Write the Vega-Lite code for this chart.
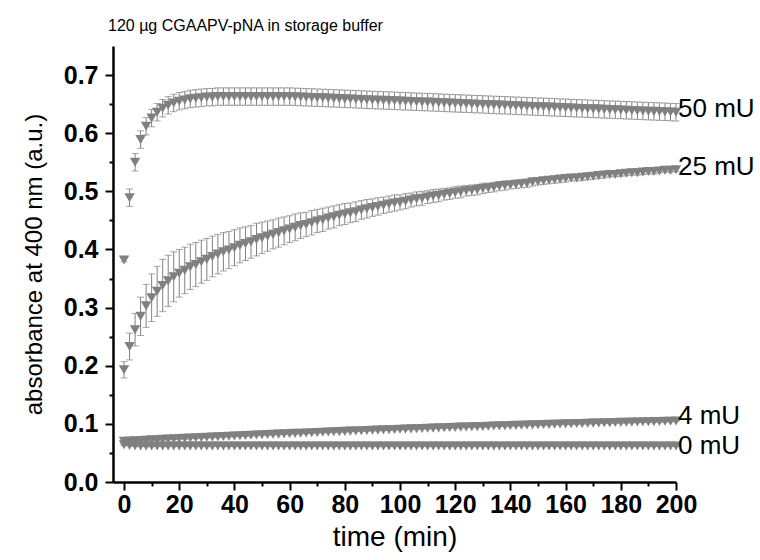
{
"$schema":"https://vega.github.io/schema/vega-lite/v6.json",
"width":563,"height":436,
"autosize":{"type":"none"},
"padding":{"left":113,"top":46,"right":84,"bottom":78},
"config":{"view":{"stroke":null},"font":"Liberation Sans"},
"title":{"text":"120 µg CGAAPV-pNA in storage buffer","anchor":"start","frame":"group","fontSize":16,"fontWeight":"normal","font":"Liberation Sans","color":"black","offset":-1,"dx":-5,"baseline":"alphabetic"},
"datasets":{"pts":[
{"t":0,"s":"50","y":0.382,"e":0.003},{"t":2,"s":"50","y":0.489,"e":0.015},{"t":4,"s":"50","y":0.55,"e":0.015},{"t":6,"s":"50","y":0.589,"e":0.015},{"t":8,"s":"50","y":0.612,"e":0.015},{"t":10,"s":"50","y":0.626,"e":0.015},{"t":12,"s":"50","y":0.636,"e":0.015},{"t":14,"s":"50","y":0.643,"e":0.015},{"t":16,"s":"50","y":0.648,"e":0.015},{"t":18,"s":"50","y":0.652,"e":0.015},{"t":20,"s":"50","y":0.655,"e":0.015},{"t":22,"s":"50","y":0.657,"e":0.015},{"t":24,"s":"50","y":0.659,"e":0.015},{"t":26,"s":"50","y":0.66,"e":0.015},{"t":28,"s":"50","y":0.661,"e":0.015},{"t":30,"s":"50","y":0.662,"e":0.015},{"t":32,"s":"50","y":0.662,"e":0.015},{"t":34,"s":"50","y":0.663,"e":0.015},{"t":36,"s":"50","y":0.663,"e":0.015},{"t":38,"s":"50","y":0.663,"e":0.015},{"t":40,"s":"50","y":0.663,"e":0.015},{"t":42,"s":"50","y":0.663,"e":0.015},{"t":44,"s":"50","y":0.663,"e":0.015},{"t":46,"s":"50","y":0.663,"e":0.015},{"t":48,"s":"50","y":0.663,"e":0.015},{"t":50,"s":"50","y":0.663,"e":0.015},{"t":52,"s":"50","y":0.663,"e":0.015},{"t":54,"s":"50","y":0.663,"e":0.015},{"t":56,"s":"50","y":0.663,"e":0.015},{"t":58,"s":"50","y":0.663,"e":0.015},{"t":60,"s":"50","y":0.663,"e":0.015},{"t":62,"s":"50","y":0.6626,"e":0.015},{"t":64,"s":"50","y":0.6622,"e":0.015},{"t":66,"s":"50","y":0.6618,"e":0.015},{"t":68,"s":"50","y":0.6615,"e":0.015},{"t":70,"s":"50","y":0.6611,"e":0.015},{"t":72,"s":"50","y":0.6607,"e":0.015},{"t":74,"s":"50","y":0.6603,"e":0.015},{"t":76,"s":"50","y":0.6599,"e":0.015},{"t":78,"s":"50","y":0.6595,"e":0.015},{"t":80,"s":"50","y":0.6591,"e":0.015},{"t":82,"s":"50","y":0.6588,"e":0.015},{"t":84,"s":"50","y":0.6584,"e":0.015},{"t":86,"s":"50","y":0.658,"e":0.015},{"t":88,"s":"50","y":0.6576,"e":0.015},{"t":90,"s":"50","y":0.6572,"e":0.015},{"t":92,"s":"50","y":0.6568,"e":0.015},{"t":94,"s":"50","y":0.6564,"e":0.015},{"t":96,"s":"50","y":0.6561,"e":0.015},{"t":98,"s":"50","y":0.6557,"e":0.015},{"t":100,"s":"50","y":0.6553,"e":0.015},{"t":102,"s":"50","y":0.6549,"e":0.015},{"t":104,"s":"50","y":0.6545,"e":0.015},{"t":106,"s":"50","y":0.6541,"e":0.015},{"t":108,"s":"50","y":0.6537,"e":0.015},{"t":110,"s":"50","y":0.6534,"e":0.015},{"t":112,"s":"50","y":0.653,"e":0.015},{"t":114,"s":"50","y":0.6526,"e":0.015},{"t":116,"s":"50","y":0.6522,"e":0.015},{"t":118,"s":"50","y":0.6518,"e":0.015},{"t":120,"s":"50","y":0.6514,"e":0.015},{"t":122,"s":"50","y":0.651,"e":0.015},{"t":124,"s":"50","y":0.6507,"e":0.015},{"t":126,"s":"50","y":0.6503,"e":0.015},{"t":128,"s":"50","y":0.6499,"e":0.015},{"t":130,"s":"50","y":0.6495,"e":0.015},{"t":132,"s":"50","y":0.6491,"e":0.015},{"t":134,"s":"50","y":0.6487,"e":0.015},{"t":136,"s":"50","y":0.6483,"e":0.015},{"t":138,"s":"50","y":0.648,"e":0.015},{"t":140,"s":"50","y":0.6476,"e":0.015},{"t":142,"s":"50","y":0.6472,"e":0.015},{"t":144,"s":"50","y":0.6468,"e":0.015},{"t":146,"s":"50","y":0.6464,"e":0.015},{"t":148,"s":"50","y":0.646,"e":0.015},{"t":150,"s":"50","y":0.6456,"e":0.015},{"t":152,"s":"50","y":0.6453,"e":0.015},{"t":154,"s":"50","y":0.6449,"e":0.015},{"t":156,"s":"50","y":0.6445,"e":0.015},{"t":158,"s":"50","y":0.6441,"e":0.015},{"t":160,"s":"50","y":0.6437,"e":0.015},{"t":162,"s":"50","y":0.6433,"e":0.015},{"t":164,"s":"50","y":0.6429,"e":0.015},{"t":166,"s":"50","y":0.6426,"e":0.015},{"t":168,"s":"50","y":0.6422,"e":0.015},{"t":170,"s":"50","y":0.6418,"e":0.015},{"t":172,"s":"50","y":0.6414,"e":0.015},{"t":174,"s":"50","y":0.641,"e":0.015},{"t":176,"s":"50","y":0.6406,"e":0.015},{"t":178,"s":"50","y":0.6402,"e":0.015},{"t":180,"s":"50","y":0.6399,"e":0.015},{"t":182,"s":"50","y":0.6395,"e":0.015},{"t":184,"s":"50","y":0.6391,"e":0.015},{"t":186,"s":"50","y":0.6387,"e":0.015},{"t":188,"s":"50","y":0.6383,"e":0.015},{"t":190,"s":"50","y":0.6379,"e":0.015},{"t":192,"s":"50","y":0.6375,"e":0.015},{"t":194,"s":"50","y":0.6372,"e":0.015},{"t":196,"s":"50","y":0.6368,"e":0.015},{"t":198,"s":"50","y":0.6364,"e":0.015},{"t":200,"s":"50","y":0.636,"e":0.015},
{"t":0,"s":"25","y":0.193,"e":0.014},{"t":2,"s":"25","y":0.233,"e":0.023},{"t":4,"s":"25","y":0.262,"e":0.028},{"t":6,"s":"25","y":0.285,"e":0.033},{"t":8,"s":"25","y":0.303,"e":0.037},{"t":10,"s":"25","y":0.317,"e":0.041},{"t":12,"s":"25","y":0.328,"e":0.043},{"t":14,"s":"25","y":0.338,"e":0.045},{"t":16,"s":"25","y":0.346,"e":0.044},{"t":18,"s":"25","y":0.353,"e":0.043},{"t":20,"s":"25","y":0.359,"e":0.041},{"t":22,"s":"25","y":0.364,"e":0.04},{"t":24,"s":"25","y":0.37,"e":0.039},{"t":26,"s":"25","y":0.374,"e":0.038},{"t":28,"s":"25","y":0.379,"e":0.037},{"t":30,"s":"25","y":0.383,"e":0.036},{"t":32,"s":"25","y":0.388,"e":0.035},{"t":34,"s":"25","y":0.392,"e":0.034},{"t":36,"s":"25","y":0.396,"e":0.033},{"t":38,"s":"25","y":0.399,"e":0.032},{"t":40,"s":"25","y":0.403,"e":0.031},{"t":42,"s":"25","y":0.407,"e":0.03},{"t":44,"s":"25","y":0.41,"e":0.029},{"t":46,"s":"25","y":0.413,"e":0.028},{"t":48,"s":"25","y":0.417,"e":0.028},{"t":50,"s":"25","y":0.42,"e":0.027},{"t":52,"s":"25","y":0.423,"e":0.026},{"t":54,"s":"25","y":0.426,"e":0.025},{"t":56,"s":"25","y":0.429,"e":0.025},{"t":58,"s":"25","y":0.432,"e":0.024},{"t":60,"s":"25","y":0.435,"e":0.023},{"t":62,"s":"25","y":0.438,"e":0.023},{"t":64,"s":"25","y":0.441,"e":0.022},{"t":66,"s":"25","y":0.443,"e":0.021},{"t":68,"s":"25","y":0.446,"e":0.021},{"t":70,"s":"25","y":0.449,"e":0.02},{"t":72,"s":"25","y":0.451,"e":0.02},{"t":74,"s":"25","y":0.454,"e":0.019},{"t":76,"s":"25","y":0.456,"e":0.019},{"t":78,"s":"25","y":0.459,"e":0.018},{"t":80,"s":"25","y":0.461,"e":0.018},{"t":82,"s":"25","y":0.463,"e":0.017},{"t":84,"s":"25","y":0.465,"e":0.017},{"t":86,"s":"25","y":0.468,"e":0.016},{"t":88,"s":"25","y":0.47,"e":0.016},{"t":90,"s":"25","y":0.472,"e":0.015},{"t":92,"s":"25","y":0.474,"e":0.015},{"t":94,"s":"25","y":0.476,"e":0.014},{"t":96,"s":"25","y":0.478,"e":0.014},{"t":98,"s":"25","y":0.48,"e":0.014},{"t":100,"s":"25","y":0.481,"e":0.013},{"t":102,"s":"25","y":0.483,"e":0.013},{"t":104,"s":"25","y":0.485,"e":0.012},{"t":106,"s":"25","y":0.487,"e":0.012},{"t":108,"s":"25","y":0.488,"e":0.012},{"t":110,"s":"25","y":0.49,"e":0.011},{"t":112,"s":"25","y":0.492,"e":0.011},{"t":114,"s":"25","y":0.493,"e":0.011},{"t":116,"s":"25","y":0.495,"e":0.01},{"t":118,"s":"25","y":0.496,"e":0.01},{"t":120,"s":"25","y":0.498,"e":0.01},{"t":122,"s":"25","y":0.499,"e":0.01},{"t":124,"s":"25","y":0.501,"e":0.009},{"t":126,"s":"25","y":0.502,"e":0.009},{"t":128,"s":"25","y":0.503,"e":0.009},{"t":130,"s":"25","y":0.505,"e":0.009},{"t":132,"s":"25","y":0.506,"e":0.008},{"t":134,"s":"25","y":0.507,"e":0.008},{"t":136,"s":"25","y":0.509,"e":0.008},{"t":138,"s":"25","y":0.51,"e":0.008},{"t":140,"s":"25","y":0.511,"e":0.007},{"t":142,"s":"25","y":0.512,"e":0.007},{"t":144,"s":"25","y":0.513,"e":0.007},{"t":146,"s":"25","y":0.514,"e":0.007},{"t":148,"s":"25","y":0.516,"e":0.007},{"t":150,"s":"25","y":0.517,"e":0.006},{"t":152,"s":"25","y":0.518,"e":0.006},{"t":154,"s":"25","y":0.519,"e":0.006},{"t":156,"s":"25","y":0.52,"e":0.006},{"t":158,"s":"25","y":0.521,"e":0.006},{"t":160,"s":"25","y":0.522,"e":0.006},{"t":162,"s":"25","y":0.523,"e":0.005},{"t":164,"s":"25","y":0.523,"e":0.005},{"t":166,"s":"25","y":0.524,"e":0.005},{"t":168,"s":"25","y":0.525,"e":0.005},{"t":170,"s":"25","y":0.526,"e":0.005},{"t":172,"s":"25","y":0.527,"e":0.005},{"t":174,"s":"25","y":0.528,"e":0.005},{"t":176,"s":"25","y":0.529,"e":0.004},{"t":178,"s":"25","y":0.529,"e":0.004},{"t":180,"s":"25","y":0.53,"e":0.004},{"t":182,"s":"25","y":0.531,"e":0.004},{"t":184,"s":"25","y":0.532,"e":0.004},{"t":186,"s":"25","y":0.532,"e":0.004},{"t":188,"s":"25","y":0.533,"e":0.004},{"t":190,"s":"25","y":0.534,"e":0.004},{"t":192,"s":"25","y":0.534,"e":0.004},{"t":194,"s":"25","y":0.535,"e":0.003},{"t":196,"s":"25","y":0.536,"e":0.003},{"t":198,"s":"25","y":0.536,"e":0.003},{"t":200,"s":"25","y":0.537,"e":0.003},
{"t":0,"s":"4","y":0.07,"e":0.001},{"t":2,"s":"4","y":0.0705,"e":0.001},{"t":4,"s":"4","y":0.071,"e":0.001},{"t":6,"s":"4","y":0.0714,"e":0.001},{"t":8,"s":"4","y":0.0719,"e":0.001},{"t":10,"s":"4","y":0.0724,"e":0.001},{"t":12,"s":"4","y":0.0728,"e":0.001},{"t":14,"s":"4","y":0.0733,"e":0.001},{"t":16,"s":"4","y":0.0738,"e":0.001},{"t":18,"s":"4","y":0.0742,"e":0.001},{"t":20,"s":"4","y":0.0747,"e":0.001},{"t":22,"s":"4","y":0.0751,"e":0.001},{"t":24,"s":"4","y":0.0756,"e":0.001},{"t":26,"s":"4","y":0.076,"e":0.001},{"t":28,"s":"4","y":0.0765,"e":0.001},{"t":30,"s":"4","y":0.0769,"e":0.001},{"t":32,"s":"4","y":0.0773,"e":0.001},{"t":34,"s":"4","y":0.0778,"e":0.001},{"t":36,"s":"4","y":0.0782,"e":0.001},{"t":38,"s":"4","y":0.0786,"e":0.001},{"t":40,"s":"4","y":0.0791,"e":0.001},{"t":42,"s":"4","y":0.0795,"e":0.001},{"t":44,"s":"4","y":0.0799,"e":0.001},{"t":46,"s":"4","y":0.0803,"e":0.001},{"t":48,"s":"4","y":0.0808,"e":0.001},{"t":50,"s":"4","y":0.0812,"e":0.001},{"t":52,"s":"4","y":0.0816,"e":0.001},{"t":54,"s":"4","y":0.082,"e":0.001},{"t":56,"s":"4","y":0.0824,"e":0.001},{"t":58,"s":"4","y":0.0828,"e":0.001},{"t":60,"s":"4","y":0.0832,"e":0.001},{"t":62,"s":"4","y":0.0836,"e":0.001},{"t":64,"s":"4","y":0.084,"e":0.001},{"t":66,"s":"4","y":0.0844,"e":0.001},{"t":68,"s":"4","y":0.0848,"e":0.001},{"t":70,"s":"4","y":0.0852,"e":0.001},{"t":72,"s":"4","y":0.0856,"e":0.001},{"t":74,"s":"4","y":0.086,"e":0.001},{"t":76,"s":"4","y":0.0863,"e":0.001},{"t":78,"s":"4","y":0.0867,"e":0.001},{"t":80,"s":"4","y":0.0871,"e":0.001},{"t":82,"s":"4","y":0.0875,"e":0.001},{"t":84,"s":"4","y":0.0878,"e":0.001},{"t":86,"s":"4","y":0.0882,"e":0.001},{"t":88,"s":"4","y":0.0886,"e":0.001},{"t":90,"s":"4","y":0.0889,"e":0.001},{"t":92,"s":"4","y":0.0893,"e":0.001},{"t":94,"s":"4","y":0.0896,"e":0.001},{"t":96,"s":"4","y":0.09,"e":0.001},{"t":98,"s":"4","y":0.0904,"e":0.001},{"t":100,"s":"4","y":0.0907,"e":0.001},{"t":102,"s":"4","y":0.091,"e":0.001},{"t":104,"s":"4","y":0.0914,"e":0.001},{"t":106,"s":"4","y":0.0917,"e":0.001},{"t":108,"s":"4","y":0.0921,"e":0.001},{"t":110,"s":"4","y":0.0924,"e":0.001},{"t":112,"s":"4","y":0.0927,"e":0.001},{"t":114,"s":"4","y":0.0931,"e":0.001},{"t":116,"s":"4","y":0.0934,"e":0.001},{"t":118,"s":"4","y":0.0937,"e":0.001},{"t":120,"s":"4","y":0.094,"e":0.001},{"t":122,"s":"4","y":0.0944,"e":0.001},{"t":124,"s":"4","y":0.0947,"e":0.001},{"t":126,"s":"4","y":0.095,"e":0.001},{"t":128,"s":"4","y":0.0953,"e":0.001},{"t":130,"s":"4","y":0.0956,"e":0.001},{"t":132,"s":"4","y":0.0959,"e":0.001},{"t":134,"s":"4","y":0.0962,"e":0.001},{"t":136,"s":"4","y":0.0965,"e":0.001},{"t":138,"s":"4","y":0.0968,"e":0.001},{"t":140,"s":"4","y":0.0971,"e":0.001},{"t":142,"s":"4","y":0.0974,"e":0.001},{"t":144,"s":"4","y":0.0977,"e":0.001},{"t":146,"s":"4","y":0.098,"e":0.001},{"t":148,"s":"4","y":0.0983,"e":0.001},{"t":150,"s":"4","y":0.0986,"e":0.001},{"t":152,"s":"4","y":0.0989,"e":0.001},{"t":154,"s":"4","y":0.0991,"e":0.001},{"t":156,"s":"4","y":0.0994,"e":0.001},{"t":158,"s":"4","y":0.0997,"e":0.001},{"t":160,"s":"4","y":0.1,"e":0.001},{"t":162,"s":"4","y":0.1002,"e":0.001},{"t":164,"s":"4","y":0.1005,"e":0.001},{"t":166,"s":"4","y":0.1007,"e":0.001},{"t":168,"s":"4","y":0.101,"e":0.001},{"t":170,"s":"4","y":0.1013,"e":0.001},{"t":172,"s":"4","y":0.1015,"e":0.001},{"t":174,"s":"4","y":0.1018,"e":0.001},{"t":176,"s":"4","y":0.102,"e":0.001},{"t":178,"s":"4","y":0.1023,"e":0.001},{"t":180,"s":"4","y":0.1025,"e":0.001},{"t":182,"s":"4","y":0.1027,"e":0.001},{"t":184,"s":"4","y":0.103,"e":0.001},{"t":186,"s":"4","y":0.1032,"e":0.001},{"t":188,"s":"4","y":0.1035,"e":0.001},{"t":190,"s":"4","y":0.1037,"e":0.001},{"t":192,"s":"4","y":0.1039,"e":0.001},{"t":194,"s":"4","y":0.1041,"e":0.001},{"t":196,"s":"4","y":0.1044,"e":0.001},{"t":198,"s":"4","y":0.1046,"e":0.001},{"t":200,"s":"4","y":0.1048,"e":0.001},
{"t":0,"s":"0","y":0.064,"e":0.001},{"t":2,"s":"0","y":0.063,"e":0.001},{"t":4,"s":"0","y":0.0625,"e":0.001},{"t":6,"s":"0","y":0.062,"e":0.001},{"t":8,"s":"0","y":0.062,"e":0.001},{"t":10,"s":"0","y":0.062,"e":0.001},{"t":12,"s":"0","y":0.062,"e":0.001},{"t":14,"s":"0","y":0.062,"e":0.001},{"t":16,"s":"0","y":0.062,"e":0.001},{"t":18,"s":"0","y":0.062,"e":0.001},{"t":20,"s":"0","y":0.062,"e":0.001},{"t":22,"s":"0","y":0.062,"e":0.001},{"t":24,"s":"0","y":0.062,"e":0.001},{"t":26,"s":"0","y":0.062,"e":0.001},{"t":28,"s":"0","y":0.062,"e":0.001},{"t":30,"s":"0","y":0.062,"e":0.001},{"t":32,"s":"0","y":0.062,"e":0.001},{"t":34,"s":"0","y":0.062,"e":0.001},{"t":36,"s":"0","y":0.062,"e":0.001},{"t":38,"s":"0","y":0.062,"e":0.001},{"t":40,"s":"0","y":0.062,"e":0.001},{"t":42,"s":"0","y":0.062,"e":0.001},{"t":44,"s":"0","y":0.062,"e":0.001},{"t":46,"s":"0","y":0.062,"e":0.001},{"t":48,"s":"0","y":0.062,"e":0.001},{"t":50,"s":"0","y":0.062,"e":0.001},{"t":52,"s":"0","y":0.062,"e":0.001},{"t":54,"s":"0","y":0.062,"e":0.001},{"t":56,"s":"0","y":0.062,"e":0.001},{"t":58,"s":"0","y":0.062,"e":0.001},{"t":60,"s":"0","y":0.062,"e":0.001},{"t":62,"s":"0","y":0.062,"e":0.001},{"t":64,"s":"0","y":0.062,"e":0.001},{"t":66,"s":"0","y":0.062,"e":0.001},{"t":68,"s":"0","y":0.062,"e":0.001},{"t":70,"s":"0","y":0.062,"e":0.001},{"t":72,"s":"0","y":0.062,"e":0.001},{"t":74,"s":"0","y":0.062,"e":0.001},{"t":76,"s":"0","y":0.062,"e":0.001},{"t":78,"s":"0","y":0.062,"e":0.001},{"t":80,"s":"0","y":0.062,"e":0.001},{"t":82,"s":"0","y":0.062,"e":0.001},{"t":84,"s":"0","y":0.062,"e":0.001},{"t":86,"s":"0","y":0.062,"e":0.001},{"t":88,"s":"0","y":0.062,"e":0.001},{"t":90,"s":"0","y":0.062,"e":0.001},{"t":92,"s":"0","y":0.062,"e":0.001},{"t":94,"s":"0","y":0.062,"e":0.001},{"t":96,"s":"0","y":0.062,"e":0.001},{"t":98,"s":"0","y":0.062,"e":0.001},{"t":100,"s":"0","y":0.062,"e":0.001},{"t":102,"s":"0","y":0.062,"e":0.001},{"t":104,"s":"0","y":0.062,"e":0.001},{"t":106,"s":"0","y":0.062,"e":0.001},{"t":108,"s":"0","y":0.062,"e":0.001},{"t":110,"s":"0","y":0.062,"e":0.001},{"t":112,"s":"0","y":0.062,"e":0.001},{"t":114,"s":"0","y":0.062,"e":0.001},{"t":116,"s":"0","y":0.062,"e":0.001},{"t":118,"s":"0","y":0.062,"e":0.001},{"t":120,"s":"0","y":0.062,"e":0.001},{"t":122,"s":"0","y":0.062,"e":0.001},{"t":124,"s":"0","y":0.062,"e":0.001},{"t":126,"s":"0","y":0.062,"e":0.001},{"t":128,"s":"0","y":0.062,"e":0.001},{"t":130,"s":"0","y":0.062,"e":0.001},{"t":132,"s":"0","y":0.062,"e":0.001},{"t":134,"s":"0","y":0.062,"e":0.001},{"t":136,"s":"0","y":0.062,"e":0.001},{"t":138,"s":"0","y":0.062,"e":0.001},{"t":140,"s":"0","y":0.062,"e":0.001},{"t":142,"s":"0","y":0.062,"e":0.001},{"t":144,"s":"0","y":0.062,"e":0.001},{"t":146,"s":"0","y":0.062,"e":0.001},{"t":148,"s":"0","y":0.062,"e":0.001},{"t":150,"s":"0","y":0.062,"e":0.001},{"t":152,"s":"0","y":0.062,"e":0.001},{"t":154,"s":"0","y":0.062,"e":0.001},{"t":156,"s":"0","y":0.062,"e":0.001},{"t":158,"s":"0","y":0.062,"e":0.001},{"t":160,"s":"0","y":0.062,"e":0.001},{"t":162,"s":"0","y":0.062,"e":0.001},{"t":164,"s":"0","y":0.062,"e":0.001},{"t":166,"s":"0","y":0.062,"e":0.001},{"t":168,"s":"0","y":0.062,"e":0.001},{"t":170,"s":"0","y":0.062,"e":0.001},{"t":172,"s":"0","y":0.062,"e":0.001},{"t":174,"s":"0","y":0.062,"e":0.001},{"t":176,"s":"0","y":0.062,"e":0.001},{"t":178,"s":"0","y":0.062,"e":0.001},{"t":180,"s":"0","y":0.062,"e":0.001},{"t":182,"s":"0","y":0.062,"e":0.001},{"t":184,"s":"0","y":0.062,"e":0.001},{"t":186,"s":"0","y":0.062,"e":0.001},{"t":188,"s":"0","y":0.062,"e":0.001},{"t":190,"s":"0","y":0.062,"e":0.001},{"t":192,"s":"0","y":0.062,"e":0.001},{"t":194,"s":"0","y":0.062,"e":0.001},{"t":196,"s":"0","y":0.062,"e":0.001},{"t":198,"s":"0","y":0.062,"e":0.001},{"t":200,"s":"0","y":0.062,"e":0.001}
],
"labels":[{"t":200,"y":0.642,"label":"50 mU"},{"t":200,"y":0.541,"label":"25 mU"},{"t":200,"y":0.114,"label":"4 mU"},{"t":200,"y":0.062,"label":"0 mU"}]},
"encoding":{
  "x":{"field":"t","type":"quantitative","scale":{"domain":[-4,200],"nice":false,"zero":false},
   "axis":{"orient":"bottom","values":[0,10,20,30,40,50,60,70,80,90,100,110,120,130,140,150,160,170,180,190,200],
    "labelExpr":"datum.value % 20 === 0 ? datum.label : ''",
    "tickSize":{"condition":{"test":"datum.value % 20 === 0","value":8},"value":4},
    "tickWidth":2,"tickColor":"black","domainColor":"black","domainWidth":2.5,"grid":false,
    "labelFont":"Liberation Sans","labelFontWeight":"bold","labelFontSize":25,"labelColor":"black","labelPadding":2,"labelFlush":false,"labelOverlap":false,
    "title":"time (min)","titleFont":"Liberation Sans","titleFontSize":28,"titleFontWeight":"normal","titleColor":"black","titlePadding":6}},
  "y":{"field":"y","type":"quantitative","scale":{"domain":[0,0.75],"nice":false},
   "axis":{"orient":"left","values":[0,0.05,0.1,0.15,0.2,0.25,0.3,0.35,0.4,0.45,0.5,0.55,0.6,0.65,0.7],"format":".1f",
    "labelExpr":"round(datum.value*100) % 10 === 0 ? datum.label : ''",
    "tickSize":{"condition":{"test":"round(datum.value*100) % 10 === 0","value":8},"value":4},
    "tickWidth":2,"tickColor":"black","domainColor":"black","domainWidth":2.5,"grid":false,
    "labelFont":"Liberation Sans","labelFontWeight":"bold","labelFontSize":25,"labelColor":"black","labelPadding":7,"labelFlush":false,"labelOverlap":false,
    "title":"absorbance at 400 nm (a.u.)","titleFont":"Liberation Sans","titleFontSize":24,"titleFontWeight":"normal","titleColor":"black","titlePadding":17}}},
"layer":[
{"data":{"name":"pts"},
 "mark":{"type":"errorbar","color":"#808080","ticks":{"size":7,"color":"#808080","thickness":1},"rule":{"color":"#808080","strokeWidth":1}},
 "encoding":{"yError":{"field":"e"}}},
{"data":{"name":"pts"},
 "mark":{"type":"point","shape":"triangle-down","filled":true,"color":"#808080","opacity":1,"size":110,"strokeWidth":0}},
{"data":{"name":"labels"},
 "mark":{"type":"text","align":"left","baseline":"middle","dx":2,"fontSize":26,"font":"Liberation Sans","color":"black"},
 "encoding":{"text":{"field":"label"}}}
]
}
